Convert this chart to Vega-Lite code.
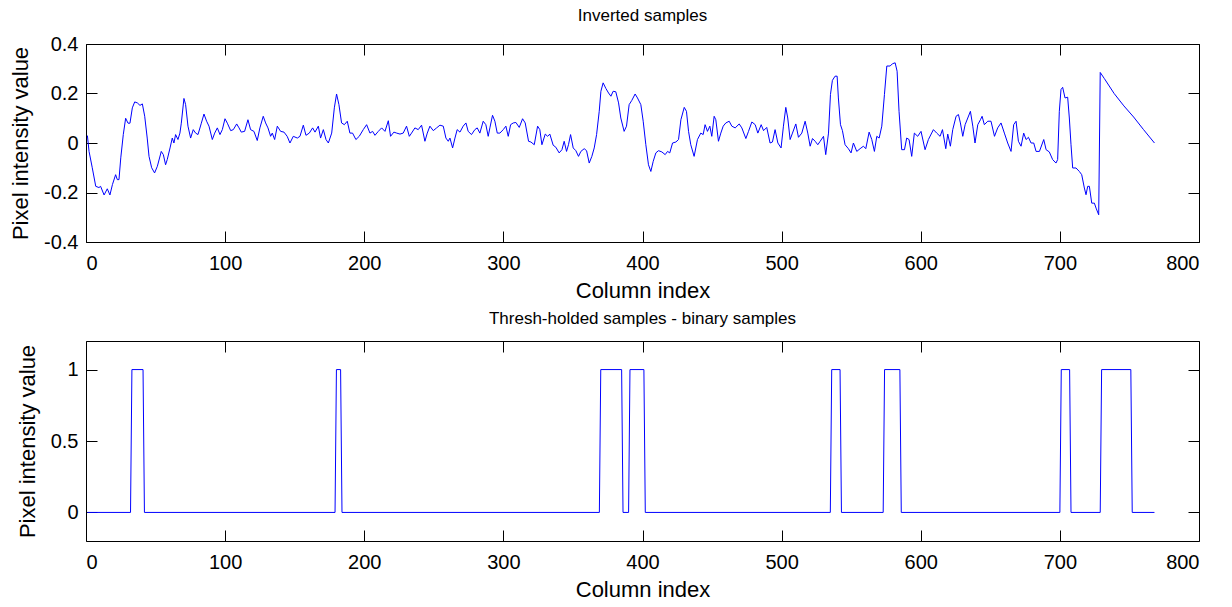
{
  "$schema": "https://vega.github.io/schema/vega-lite/v6.json",
  "padding": {"left": 9, "top": 6, "right": 10, "bottom": 5},
  "background": "white",
  "config": {
    "font": "Liberation Sans",
    "view": {"stroke": "black", "strokeWidth": 1},
    "axis": {
      "grid": false, "domain": false, "tickColor": "black", "tickSize": -11, "tickWidth": 1,
      "labelColor": "black", "labelFontSize": 20, "labelPadding": 19,
      "titleColor": "black", "titleFontSize": 22, "titleFontWeight": "normal"
    },
    "axisX": {"labelPadding": 22, "titlePadding": 7},
    "axisY": {"titlePadding": 11},
    "title": {"fontSize": 17, "fontWeight": "normal", "color": "black"}
  },
  "spacing": 7,
  "datasets": {
    "inv": [
      {"col": 1, "val": 0.03}, {"col": 2.2, "val": -0.034}, {"col": 4.5, "val": -0.1}, {"col": 7, "val": -0.175},
      {"col": 9.3, "val": -0.18}, {"col": 10.5, "val": -0.175}, {"col": 13, "val": -0.21}, {"col": 15.3, "val": -0.185},
      {"col": 17.2, "val": -0.21}, {"col": 19, "val": -0.168}, {"col": 21.3, "val": -0.128}, {"col": 22.5, "val": -0.148},
      {"col": 23.7, "val": -0.148}, {"col": 25, "val": -0.06}, {"col": 26.8, "val": 0.034}, {"col": 28.5, "val": 0.1},
      {"col": 30.2, "val": 0.08}, {"col": 31.6, "val": 0.08}, {"col": 33.3, "val": 0.142}, {"col": 35, "val": 0.166},
      {"col": 36.9, "val": 0.162}, {"col": 38.8, "val": 0.152}, {"col": 40.5, "val": 0.158}, {"col": 42.2, "val": 0.108},
      {"col": 44, "val": 0.02}, {"col": 45.3, "val": -0.054}, {"col": 47.2, "val": -0.1}, {"col": 49.3, "val": -0.121},
      {"col": 51.3, "val": -0.094}, {"col": 54.1, "val": -0.034}, {"col": 55.6, "val": -0.047}, {"col": 57.2, "val": -0.088},
      {"col": 58.4, "val": -0.067}, {"col": 60.4, "val": -0.02}, {"col": 62, "val": 0.02}, {"col": 63.2, "val": 0},
      {"col": 64.4, "val": 0.034}, {"col": 66.1, "val": 0.014}, {"col": 67.5, "val": 0.04}, {"col": 68.5, "val": 0.08},
      {"col": 70.4, "val": 0.18}, {"col": 71.6, "val": 0.155}, {"col": 73.3, "val": 0.068}, {"col": 75.2, "val": 0.02},
      {"col": 77.1, "val": 0.054}, {"col": 78.8, "val": 0.04}, {"col": 80.5, "val": 0.034}, {"col": 82.9, "val": 0.08},
      {"col": 84.8, "val": 0.117}, {"col": 86.7, "val": 0.088}, {"col": 88.4, "val": 0.068}, {"col": 90.8, "val": 0.014},
      {"col": 92.5, "val": 0.04}, {"col": 94.4, "val": 0.061}, {"col": 96.3, "val": 0.034}, {"col": 98, "val": 0.054},
      {"col": 99.9, "val": 0.098}, {"col": 101.6, "val": 0.08}, {"col": 104, "val": 0.05}, {"col": 105.9, "val": 0.054},
      {"col": 108.3, "val": 0.077}, {"col": 110, "val": 0.061}, {"col": 111.6, "val": 0.044}, {"col": 114, "val": 0.047},
      {"col": 116.4, "val": 0.094}, {"col": 118.3, "val": 0.054}, {"col": 120.7, "val": 0.047}, {"col": 123.1, "val": 0.01},
      {"col": 125, "val": 0.061}, {"col": 127.4, "val": 0.108}, {"col": 129.1, "val": 0.081}, {"col": 130.8, "val": 0.061},
      {"col": 132.7, "val": 0.027}, {"col": 133.9, "val": 0.04}, {"col": 135.6, "val": 0.014}, {"col": 137.5, "val": 0.068},
      {"col": 139.9, "val": 0.047}, {"col": 142.3, "val": 0.044}, {"col": 144.6, "val": 0.027}, {"col": 146.6, "val": 0},
      {"col": 149, "val": 0.027}, {"col": 151.9, "val": 0.02}, {"col": 153.8, "val": 0.027}, {"col": 156.2, "val": 0.072},
      {"col": 158.1, "val": 0.031}, {"col": 160.5, "val": 0.04}, {"col": 162.9, "val": 0.061}, {"col": 164.6, "val": 0.044},
      {"col": 167, "val": 0.068}, {"col": 168.6, "val": 0.02}, {"col": 170.6, "val": 0.054}, {"col": 172.5, "val": 0.014},
      {"col": 174.2, "val": 0}, {"col": 176.6, "val": 0.04}, {"col": 178.5, "val": 0.142}, {"col": 180.1, "val": 0.198},
      {"col": 181.8, "val": 0.155}, {"col": 183.7, "val": 0.081}, {"col": 185.7, "val": 0.074}, {"col": 187.8, "val": 0.088},
      {"col": 189.7, "val": 0.04}, {"col": 191.6, "val": 0.04}, {"col": 194, "val": 0.014}, {"col": 196.4, "val": 0.027},
      {"col": 199.3, "val": 0.054}, {"col": 201.7, "val": 0.074}, {"col": 204.1, "val": 0.04}, {"col": 206, "val": 0.047},
      {"col": 207.7, "val": 0.031}, {"col": 210.1, "val": 0.047}, {"col": 212.5, "val": 0.061}, {"col": 214.9, "val": 0.047},
      {"col": 217.3, "val": 0.09}, {"col": 218.9, "val": 0.027}, {"col": 221.3, "val": 0.044}, {"col": 223.3, "val": 0.04},
      {"col": 225.7, "val": 0.036}, {"col": 228, "val": 0.04}, {"col": 230.4, "val": 0.068}, {"col": 232.4, "val": 0.027},
      {"col": 234, "val": 0.04}, {"col": 236.4, "val": 0.061}, {"col": 238.8, "val": 0.054}, {"col": 241.2, "val": 0.072},
      {"col": 243.6, "val": 0.007}, {"col": 245.3, "val": 0.04}, {"col": 247.2, "val": 0.068}, {"col": 249.6, "val": 0.05},
      {"col": 252, "val": 0.061}, {"col": 254.4, "val": 0.072}, {"col": 256.8, "val": 0.068}, {"col": 258.7, "val": 0.02},
      {"col": 260.4, "val": 0.007}, {"col": 261.6, "val": 0.02}, {"col": 263.5, "val": -0.02}, {"col": 265.2, "val": 0.02},
      {"col": 266.8, "val": 0.054}, {"col": 268.8, "val": 0.044}, {"col": 271.1, "val": 0.068}, {"col": 273.1, "val": 0.081},
      {"col": 274.7, "val": 0.047}, {"col": 277.1, "val": 0.034}, {"col": 279.5, "val": 0.054}, {"col": 281.2, "val": 0.061},
      {"col": 283.1, "val": 0.04}, {"col": 285.5, "val": 0.088}, {"col": 287.4, "val": 0.074}, {"col": 289.1, "val": 0.027},
      {"col": 290.3, "val": 0.061}, {"col": 292.2, "val": 0.112}, {"col": 293.9, "val": 0.088}, {"col": 295.6, "val": 0.04},
      {"col": 297.5, "val": 0.04}, {"col": 299.9, "val": 0.054}, {"col": 301.8, "val": 0.068}, {"col": 303.5, "val": 0.027},
      {"col": 305.2, "val": 0.074}, {"col": 307.1, "val": 0.081}, {"col": 309, "val": 0.083}, {"col": 311.4, "val": 0.063},
      {"col": 313.8, "val": 0.098}, {"col": 315.7, "val": 0.081}, {"col": 318.1, "val": 0.007}, {"col": 319.8, "val": 0.004},
      {"col": 322.2, "val": -0.007}, {"col": 324.6, "val": 0.068}, {"col": 326.2, "val": 0.054}, {"col": 327.7, "val": -0.007},
      {"col": 330.1, "val": 0.036}, {"col": 331.8, "val": 0.027}, {"col": 333.4, "val": 0.036}, {"col": 335.8, "val": -0.009},
      {"col": 337.7, "val": -0.017}, {"col": 340.1, "val": -0.04}, {"col": 342.1, "val": -0.027}, {"col": 343.7, "val": 0.007},
      {"col": 345.4, "val": -0.034}, {"col": 346.8, "val": -0.007}, {"col": 348.3, "val": 0.034}, {"col": 350.2, "val": -0.02},
      {"col": 352.1, "val": -0.031}, {"col": 354, "val": -0.054}, {"col": 355.7, "val": -0.034}, {"col": 358.1, "val": -0.023},
      {"col": 359.8, "val": -0.031}, {"col": 361.7, "val": -0.081}, {"col": 363.6, "val": -0.054}, {"col": 365.3, "val": -0.02},
      {"col": 367, "val": 0.034}, {"col": 368.9, "val": 0.128}, {"col": 370.1, "val": 0.209}, {"col": 371.7, "val": 0.243},
      {"col": 373.7, "val": 0.22}, {"col": 375.6, "val": 0.202}, {"col": 377.3, "val": 0.189}, {"col": 378.9, "val": 0.209},
      {"col": 380.8, "val": 0.207}, {"col": 382.8, "val": 0.162}, {"col": 384.4, "val": 0.101}, {"col": 386.8, "val": 0.047},
      {"col": 388.5, "val": 0.068}, {"col": 390.4, "val": 0.155}, {"col": 392.3, "val": 0.172}, {"col": 394.7, "val": 0.198},
      {"col": 396.4, "val": 0.182}, {"col": 398.8, "val": 0.155}, {"col": 400.5, "val": 0.088}, {"col": 402.4, "val": -0.007},
      {"col": 404.3, "val": -0.088}, {"col": 406, "val": -0.115}, {"col": 407.7, "val": -0.074}, {"col": 409.6, "val": -0.04},
      {"col": 411.5, "val": -0.031}, {"col": 413.9, "val": -0.036}, {"col": 416.3, "val": -0.047}, {"col": 418, "val": -0.034},
      {"col": 419.6, "val": -0.04}, {"col": 421.6, "val": 0}, {"col": 424, "val": 0.004}, {"col": 425.9, "val": 0.014},
      {"col": 427.6, "val": 0.094}, {"col": 430, "val": 0.144}, {"col": 431.6, "val": 0.128}, {"col": 433.1, "val": 0.047},
      {"col": 434.7, "val": -0.007}, {"col": 437.1, "val": -0.054}, {"col": 439.5, "val": 0.014}, {"col": 441.9, "val": 0.04},
      {"col": 443.6, "val": 0.034}, {"col": 445, "val": 0.074}, {"col": 446.7, "val": 0.047}, {"col": 448.4, "val": 0.068},
      {"col": 449.8, "val": 0.027}, {"col": 451.5, "val": 0.108}, {"col": 452.7, "val": 0.094}, {"col": 454.6, "val": 0.007},
      {"col": 456.3, "val": 0.04}, {"col": 458, "val": 0.068}, {"col": 459.9, "val": 0.081}, {"col": 462.3, "val": 0.088},
      {"col": 464.2, "val": 0.068}, {"col": 466.6, "val": 0.061}, {"col": 469.5, "val": 0.077}, {"col": 471.4, "val": 0.061},
      {"col": 474.3, "val": 0.018}, {"col": 476.2, "val": 0.047}, {"col": 478.6, "val": 0.085}, {"col": 481, "val": 0.074},
      {"col": 482.9, "val": 0.04}, {"col": 485.3, "val": 0.074}, {"col": 487, "val": 0.05}, {"col": 489.3, "val": 0.063},
      {"col": 491.7, "val": 0}, {"col": 493.4, "val": 0.004}, {"col": 495.3, "val": 0.054}, {"col": 497.3, "val": 0},
      {"col": 499.6, "val": -0.02}, {"col": 501.3, "val": 0.068}, {"col": 503, "val": 0.144}, {"col": 504.4, "val": 0.101},
      {"col": 506.1, "val": 0.014}, {"col": 507.8, "val": 0.04}, {"col": 510.2, "val": 0.077}, {"col": 512.1, "val": 0.023},
      {"col": 514.5, "val": 0.04}, {"col": 516.9, "val": 0.088}, {"col": 518.8, "val": 0.04}, {"col": 520.5, "val": -0.013},
      {"col": 522.2, "val": 0.018}, {"col": 524.1, "val": 0.007}, {"col": 526, "val": -0.007}, {"col": 527.7, "val": 0.007},
      {"col": 530.1, "val": 0.027}, {"col": 531.7, "val": -0.047}, {"col": 533.7, "val": 0.04}, {"col": 535.1, "val": 0.196},
      {"col": 536.5, "val": 0.253}, {"col": 538.4, "val": 0.27}, {"col": 539.9, "val": 0.27}, {"col": 540.8, "val": 0.182},
      {"col": 542.3, "val": 0.074}, {"col": 543.7, "val": 0.05}, {"col": 545.6, "val": -0.007}, {"col": 548, "val": -0.023},
      {"col": 549.9, "val": -0.04}, {"col": 551.6, "val": 0}, {"col": 554, "val": -0.034}, {"col": 556.4, "val": -0.023},
      {"col": 558.8, "val": -0.013}, {"col": 560.5, "val": -0.023}, {"col": 562.9, "val": 0.044}, {"col": 564.8, "val": 0.014},
      {"col": 566.7, "val": -0.034}, {"col": 568.4, "val": 0.027}, {"col": 570.1, "val": 0.02}, {"col": 572, "val": 0.068},
      {"col": 573.9, "val": 0.196}, {"col": 575.6, "val": 0.311}, {"col": 578, "val": 0.311}, {"col": 579.6, "val": 0.32},
      {"col": 581.6, "val": 0.324}, {"col": 583, "val": 0.29}, {"col": 584.4, "val": 0.128}, {"col": 586.3, "val": -0.027},
      {"col": 588.3, "val": -0.027}, {"col": 589.9, "val": 0.02}, {"col": 591.6, "val": 0.014}, {"col": 593.5, "val": -0.054},
      {"col": 595.4, "val": 0.04}, {"col": 597.8, "val": 0.027}, {"col": 600.2, "val": 0.047}, {"col": 603.1, "val": -0.027},
      {"col": 605.5, "val": 0.014}, {"col": 609.1, "val": 0.054}, {"col": 611.5, "val": 0.04}, {"col": 613.9, "val": 0.027},
      {"col": 615.6, "val": 0.054}, {"col": 618, "val": -0.023}, {"col": 619.4, "val": 0.036}, {"col": 621.3, "val": -0.013},
      {"col": 623, "val": 0.054}, {"col": 625.4, "val": 0.108}, {"col": 627.1, "val": 0.115}, {"col": 628.5, "val": 0.081},
      {"col": 630.2, "val": 0.027}, {"col": 631.9, "val": 0.074}, {"col": 633.8, "val": 0.101}, {"col": 635.7, "val": 0.128},
      {"col": 637.4, "val": 0.068}, {"col": 639, "val": 0}, {"col": 641, "val": 0.074}, {"col": 642.9, "val": 0.094},
      {"col": 644.1, "val": 0.108}, {"col": 645.7, "val": 0.074}, {"col": 648.2, "val": 0.088}, {"col": 650.5, "val": 0.088},
      {"col": 653, "val": 0.027}, {"col": 655.3, "val": 0.061}, {"col": 657.7, "val": 0.081}, {"col": 660.1, "val": 0.04},
      {"col": 662.5, "val": 0}, {"col": 664.9, "val": -0.034}, {"col": 666.8, "val": 0.074}, {"col": 668.5, "val": 0.088},
      {"col": 670.2, "val": 0.007}, {"col": 672.1, "val": -0.013}, {"col": 674, "val": 0.04}, {"col": 675.7, "val": 0.014},
      {"col": 677.4, "val": 0.023}, {"col": 679.3, "val": 0}, {"col": 681.2, "val": 0}, {"col": 682.9, "val": -0.034},
      {"col": 685.3, "val": -0.034}, {"col": 688.4, "val": 0.014}, {"col": 690.1, "val": -0.027}, {"col": 692.4, "val": -0.036},
      {"col": 694.8, "val": -0.067}, {"col": 697.2, "val": -0.081}, {"col": 698.4, "val": -0.067}, {"col": 699.6, "val": 0.128},
      {"col": 700.8, "val": 0.216}, {"col": 702, "val": 0.225}, {"col": 703.7, "val": 0.182}, {"col": 705.6, "val": 0.185},
      {"col": 706.8, "val": 0.101}, {"col": 708, "val": -0.007}, {"col": 709.2, "val": -0.101}, {"col": 711.6, "val": -0.101},
      {"col": 714, "val": -0.115}, {"col": 715.7, "val": -0.128}, {"col": 717.6, "val": -0.182}, {"col": 718.8, "val": -0.209},
      {"col": 720, "val": -0.175}, {"col": 721.2, "val": -0.175}, {"col": 722.9, "val": -0.243}, {"col": 724.8, "val": -0.243},
      {"col": 726, "val": -0.263}, {"col": 727.9, "val": -0.29}, {"col": 729, "val": 0.285}, {"col": 732, "val": 0.26},
      {"col": 739, "val": 0.2}, {"col": 746, "val": 0.15}, {"col": 753, "val": 0.105}, {"col": 760, "val": 0.055},
      {"col": 768, "val": 0}
    ],
    "bin": [
      {"col": 1, "val": 0}, {"col": 32, "val": 0}, {"col": 33, "val": 1}, {"col": 41, "val": 1}, {"col": 42, "val": 0},
      {"col": 179, "val": 0}, {"col": 180, "val": 1}, {"col": 183, "val": 1}, {"col": 184, "val": 0},
      {"col": 369, "val": 0}, {"col": 370, "val": 1}, {"col": 385, "val": 1}, {"col": 386, "val": 0},
      {"col": 390, "val": 0}, {"col": 391, "val": 1}, {"col": 401, "val": 1}, {"col": 402, "val": 0},
      {"col": 535, "val": 0}, {"col": 536, "val": 1}, {"col": 542, "val": 1}, {"col": 543, "val": 0},
      {"col": 573, "val": 0}, {"col": 574, "val": 1}, {"col": 585, "val": 1}, {"col": 586, "val": 0},
      {"col": 700, "val": 0}, {"col": 701, "val": 1}, {"col": 707, "val": 1}, {"col": 708, "val": 0},
      {"col": 729, "val": 0}, {"col": 730, "val": 1}, {"col": 751, "val": 1}, {"col": 752, "val": 0},
      {"col": 768, "val": 0}
    ]
  },
  "vconcat": [
    {
      "title": {"text": "Inverted samples", "offset": 9},
      "width": 1113,
      "height": 198,
      "layer": [
        {
          "data": {"name": "inv"},
          "mark": {"type": "line", "color": "#0000ff", "strokeWidth": 1},
          "encoding": {
            "x": {"field": "col", "type": "quantitative", "scale": {"domain": [0, 800], "nice": false, "zero": false},
                  "axis": {"values": [0, 100, 200, 300, 400, 500, 600, 700, 800], "title": "Column index"}},
            "y": {"field": "val", "type": "quantitative", "scale": {"domain": [-0.4, 0.4], "nice": false, "zero": false},
                  "axis": {"values": [-0.4, -0.2, 0, 0.2, 0.4], "title": "Pixel intensity value",
                           "labelExpr": "(datum.value < 0 ? '-' : '') + format(abs(datum.value), '~g')"}}
          }
        },
        {
          "data": {"name": "inv"},
          "mark": {"type": "line", "opacity": 0},
          "encoding": {
            "x": {"field": "col", "type": "quantitative", "scale": {"domain": [0, 800], "nice": false, "zero": false},
                  "axis": {"orient": "top", "values": [0, 100, 200, 300, 400, 500, 600, 700, 800], "labels": false, "title": null}},
            "y": {"field": "val", "type": "quantitative", "scale": {"domain": [-0.4, 0.4], "nice": false, "zero": false},
                  "axis": {"orient": "right", "values": [-0.4, -0.2, 0, 0.2, 0.4], "labels": false, "title": null}}
          }
        }
      ],
      "resolve": {"scale": {"x": "independent", "y": "independent"}, "axis": {"x": "independent", "y": "independent"}}
    },
    {
      "title": {"text": "Thresh-holded samples - binary samples", "offset": 13},
      "width": 1113,
      "height": 200,
      "layer": [
        {
          "data": {"name": "bin"},
          "mark": {"type": "line", "color": "#0000ff", "strokeWidth": 1},
          "encoding": {
            "x": {"field": "col", "type": "quantitative", "scale": {"domain": [0, 800], "nice": false, "zero": false},
                  "axis": {"values": [0, 100, 200, 300, 400, 500, 600, 700, 800], "title": "Column index"}},
            "y": {"field": "val", "type": "quantitative", "scale": {"domain": [-0.2, 1.2], "nice": false, "zero": false},
                  "axis": {"values": [0, 0.5, 1], "title": "Pixel intensity value", "format": "~g"}}
          }
        },
        {
          "data": {"name": "bin"},
          "mark": {"type": "line", "opacity": 0},
          "encoding": {
            "x": {"field": "col", "type": "quantitative", "scale": {"domain": [0, 800], "nice": false, "zero": false},
                  "axis": {"orient": "top", "values": [0, 100, 200, 300, 400, 500, 600, 700, 800], "labels": false, "title": null}},
            "y": {"field": "val", "type": "quantitative", "scale": {"domain": [-0.2, 1.2], "nice": false, "zero": false},
                  "axis": {"orient": "right", "values": [0, 0.5, 1], "labels": false, "title": null}}
          }
        }
      ],
      "resolve": {"scale": {"x": "independent", "y": "independent"}, "axis": {"x": "independent", "y": "independent"}}
    }
  ]
}
